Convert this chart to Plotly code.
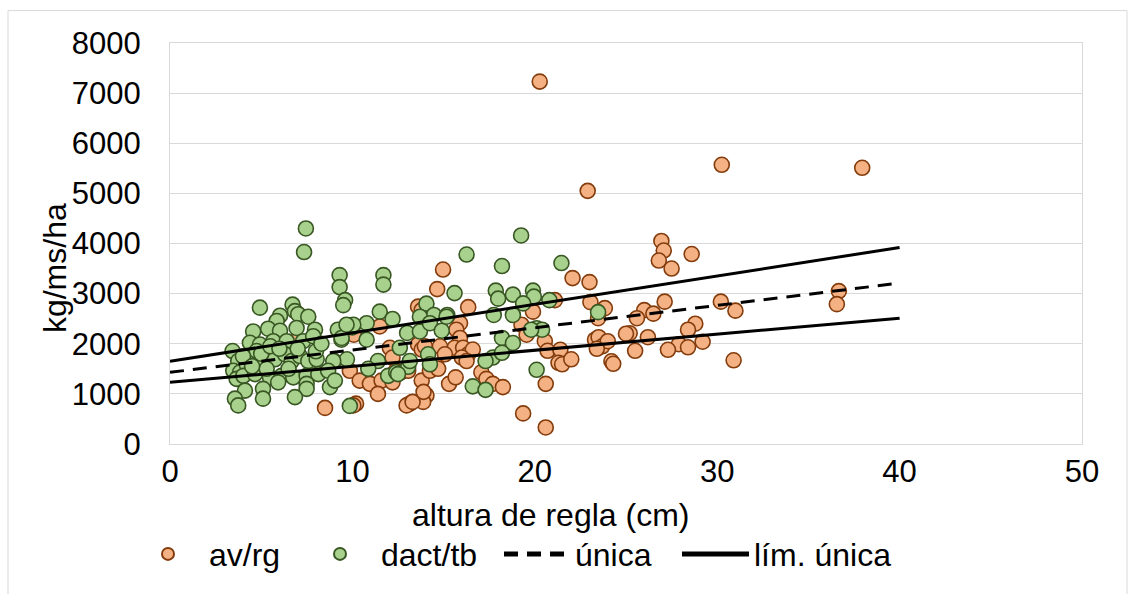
import plotly.graph_objects as go

# av/rg samples: ruler height (cm) vs dry matter (kg/ms/ha)
avrg_x = [20.27, 30.25, 37.95, 22.9, 26.94, 27.07, 26.8, 27.5, 28.6, 22.07, 23.0, 36.67, 36.56,
          30.2, 31.0, 30.9, 27.12, 26.0, 26.5, 25.6, 25.2, 28.8, 28.4, 26.2, 29.2, 27.9, 28.4,
          27.3, 25.5, 23.05, 23.84, 23.47, 21.1, 19.9, 25.0, 20.55, 20.7, 21.4, 23.3, 23.5, 23.7,
          24.0, 23.4, 21.3, 21.5, 22.0, 24.2, 24.3, 20.6, 20.6, 19.36, 19.27, 19.55,
          14.97, 14.65, 16.35, 13.6, 13.8, 11.5, 10.08, 15.9, 15.7, 15.9, 15.6, 16.07, 16.35,
          16.6, 13.6, 13.8, 13.97, 14.8, 15.07, 12.05, 12.2, 9.86, 10.4, 10.96, 11.6, 11.4, 12.2,
          12.38, 12.65, 13.06, 13.8, 14.25, 14.6, 14.06, 13.88, 13.15, 12.97, 15.3, 15.66, 17.07,
          17.35, 17.7, 18.25, 10.2, 10.05, 14.7, 16.0, 16.26, 8.5, 6.85, 13.3, 13.9]
avrg_y = [7230, 5570, 5510, 5050, 4050, 3860, 3660, 3500, 3790, 3310, 3230, 3050, 2790,
          2840, 2660, 1670, 2840, 2670, 2600, 2510, 2210, 2400, 2280, 2130, 2040, 1990, 1930,
          1880, 1860, 2830, 2710, 2510, 2870, 2640, 2200, 2050, 1860, 1880, 2080, 2130, 1950,
          2050, 1900, 1620, 1590, 1690, 1650, 1600, 1200, 330, 610, 2380, 2180,
          3480, 3090, 2730, 2740, 2670, 2345, 2180, 2410, 2280, 2115, 1920, 1920, 1790,
          1885, 1985, 1885, 1950, 1950, 1790, 1920, 1725, 1460, 1265, 1200, 1265, 1000, 1230,
          1460, 1430, 1460, 1265, 1460, 1560, 970, 840, 805, 770, 1200, 1330, 1430,
          1300, 1200, 1135, 805, 770, 1500, 1725, 1655, 720, 2040, 840, 1040]

# dact/tb samples
dact_x = [7.45, 7.35, 19.25, 16.26, 21.46, 18.2, 9.3, 9.3, 11.7, 11.7, 15.6, 17.86, 17.99,
          18.8, 19.9, 19.95, 19.36, 20.8, 23.47, 20.1, 20.4, 20.1,
          9.6, 9.5, 14.06, 11.5, 12.2, 9.2, 9.75, 10.0, 10.78, 10.78, 9.4, 13.0, 13.7, 12.6,
          9.0, 9.7, 11.4, 10.87, 11.96, 12.4, 13.06, 8.77, 9.86, 14.47, 15.2, 13.7, 14.25, 14.9,
          17.75, 18.8, 19.8, 18.2, 18.8, 17.7, 17.3, 14.15, 14.25, 16.6, 17.3, 18.2, 15.16,
          10.05, 12.5, 13.15,
          4.93, 6.72, 6.85, 7.03, 7.58, 6.03, 5.85, 4.56, 5.38, 6.03, 6.94, 7.95, 4.38, 4.93,
          5.66, 6.4, 7.3, 7.85, 3.43, 3.74, 3.47, 3.84, 4.2, 4.75, 5.1, 5.75, 6.3, 6.67, 7.12,
          7.58, 8.04, 8.95, 9.41, 9.68, 3.65, 4.02, 4.66, 5.48, 6.12, 6.76, 7.49, 8.13, 8.67,
          9.04, 4.11, 5.1, 5.1, 5.93, 7.49, 7.49, 6.85, 3.56, 3.74,
          5.0, 5.5, 6.0, 4.0, 7.0, 8.0, 5.3, 6.5, 4.5, 8.3]
dact_y = [4300, 3830, 4160, 3780, 3610, 3550, 3370, 3130, 3370, 3180, 3010, 3060, 2900,
          2980, 3060, 2940, 2805, 2870, 2630, 2310, 2280, 1480,
          2870, 2770, 2800, 2640, 2495, 2280, 2345, 2325, 2410, 2080, 2080, 2215, 2245, 1920,
          1655, 1690, 1655, 1500, 1360, 1430, 1540, 1135, 760, 2575, 2575, 2540, 2410, 2260,
          2575, 2575, 2280, 2115, 2015, 1725, 1655, 1790, 1590, 1150, 1080, 1820, 2540,
          2380, 1395, 1655,
          2720, 2780, 2650, 2590, 2540, 2560, 2455, 2245, 2300, 2260, 2315, 2280, 2020, 1985,
          2050, 2050, 2050, 2150, 1855, 1655, 1460, 1430, 1590, 1855, 1655, 1690, 1790, 1655, 1755,
          1655, 1690, 1655, 2115, 2380, 1300, 1360, 1395, 1330, 1360, 1330, 1360, 1395, 1460,
          1265, 1065, 1100, 905, 1230, 1200, 1100, 935, 905, 770,
          1800, 1950, 1900, 1750, 1900, 1850, 1500, 1500, 1550, 2000]

# Single fitted line and its limits, evaluated at the ends of the fitted range
fit_x = [0, 40]
unica_y = [1430, 3210]
lim_sup_y = [1650, 3920]
lim_inf_y = [1230, 2510]

x_ticks = [0, 10, 20, 30, 40, 50]
y_ticks = [0, 1000, 2000, 3000, 4000, 5000, 6000, 7000, 8000]

FONT = "Liberation Sans, Arial, sans-serif"
ORANGE_FILL, ORANGE_EDGE = "#F4B183", "#843C0C"
GREEN_FILL, GREEN_EDGE = "#A9D18E", "#385723"

fig = go.Figure()
fig.add_trace(go.Scatter(
    x=avrg_x, y=avrg_y, mode="markers", name="av/rg", legend="legend",
    marker=dict(size=15, color=ORANGE_FILL, line=dict(color=ORANGE_EDGE, width=1.6)),
))
fig.add_trace(go.Scatter(
    x=dact_x, y=dact_y, mode="markers", name="dact/tb", legend="legend2",
    marker=dict(size=15, color=GREEN_FILL, line=dict(color=GREEN_EDGE, width=1.6)),
))
fig.add_trace(go.Scatter(
    x=fit_x, y=unica_y, mode="lines", name="única", legend="legend3",
    line=dict(color="black", width=3, dash="14px,9px"),
))
fig.add_trace(go.Scatter(
    x=fit_x, y=lim_sup_y, mode="lines", name="lím. única", legend="legend4",
    legendgroup="lim", line=dict(color="black", width=3),
))
fig.add_trace(go.Scatter(
    x=fit_x, y=lim_inf_y, mode="lines", name="lím. única", legend="legend4",
    legendgroup="lim", showlegend=False, line=dict(color="black", width=3),
))

L, R, T, B = 170, 53, 43, 143
W, H = 1135, 594
pw, ph = W - L - R, H - T - B

def px_x(px):
    return (px - L) / pw

def px_y(py):
    return (H - B - py) / ph

def legend_at(px, item_w):
    return dict(
        orientation="h", x=px_x(px), y=px_y(563), xanchor="left", yanchor="middle",
        font=dict(size=32, color="black"), itemsizing="constant", itemwidth=item_w,
        bgcolor="rgba(0,0,0,0)", borderwidth=0,
    )

fig.update_layout(
    width=W, height=H,
    margin=dict(l=L, r=R, t=T, b=B, pad=0),
    paper_bgcolor="white", plot_bgcolor="white",
    font=dict(family=FONT, size=31, color="black"),
    showlegend=True,
    legend=legend_at(127, 72),
    legend2=legend_at(299, 72),
    legend3=legend_at(499, 66),
    legend4=legend_at(677, 67),
    xaxis=dict(
        range=[0, 50], tickvals=x_ticks, ticktext=[str(v) for v in x_ticks],
        showgrid=False, zeroline=False,
        showline=True, linecolor="#D9D9D9", linewidth=1, mirror=True,
        ticks="", ticklabelstandoff=0,
        tickfont=dict(size=31, color="black"),
    ),
    yaxis=dict(
        range=[0, 8000], tickvals=y_ticks, ticktext=[str(v) for v in y_ticks],
        showgrid=True, gridcolor="#D9D9D9", gridwidth=1, zeroline=False,
        showline=True, linecolor="#D9D9D9", linewidth=1, mirror=True,
        ticks="", ticklabelstandoff=22,
        tickfont=dict(size=31, color="black"),
    ),
    annotations=[
        dict(text="kg/ms/ha", xref="paper", yref="paper", x=px_x(55), y=px_y(272),
             textangle=-90, showarrow=False, xanchor="center", yanchor="middle",
             font=dict(size=32, color="black")),
        dict(text="altura de regla (cm)", xref="paper", yref="paper", x=px_x(550), y=px_y(523),
             showarrow=False, xanchor="center", yanchor="middle",
             font=dict(size=32, color="black")),
    ],
    shapes=[
        dict(type="rect", xref="paper", yref="paper",
             x0=px_x(8), x1=px_x(1127), y0=px_y(620), y1=px_y(10),
             line=dict(color="#D9D9D9", width=1), fillcolor="rgba(0,0,0,0)", layer="below"),
    ],
)

fig.write_html("out.html")
